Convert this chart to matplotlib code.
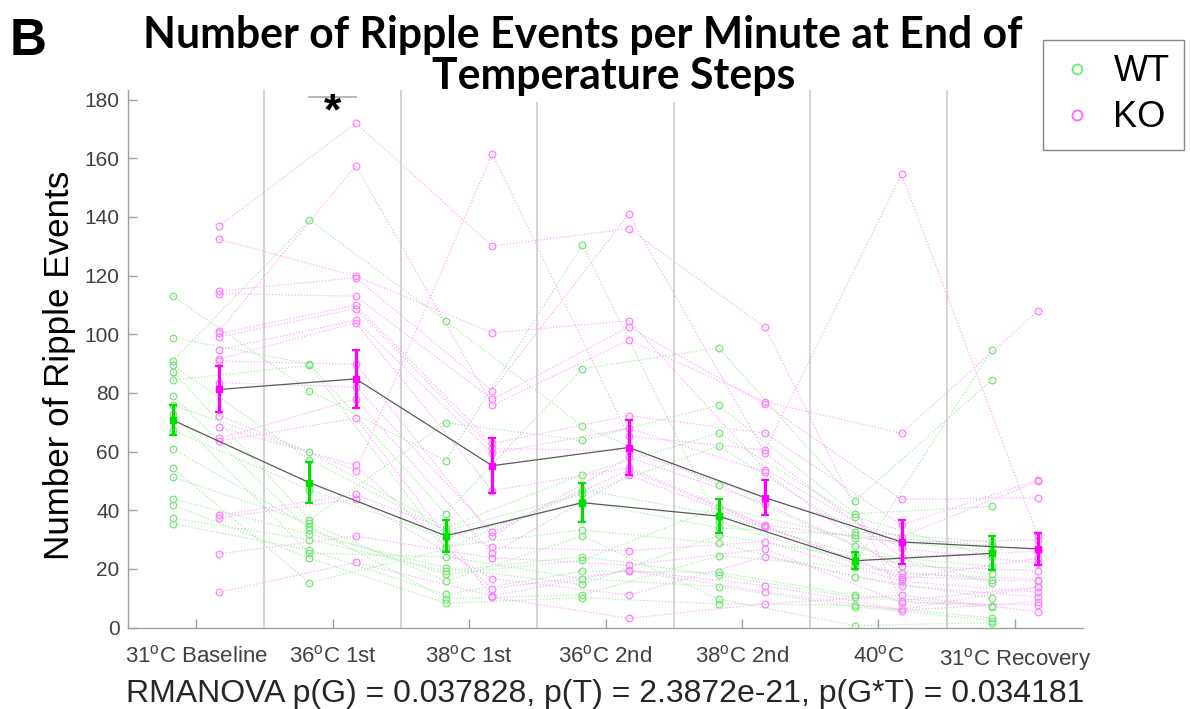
import matplotlib
matplotlib.use("Agg")
import matplotlib.pyplot as plt
from matplotlib.lines import Line2D
import numpy as np

plt.rcParams["font.family"] = ["Liberation Sans", "DejaVu Sans"]
plt.rcParams["mathtext.fontset"] = "custom"
plt.rcParams["mathtext.rm"] = "Liberation Sans"
plt.rcParams["mathtext.it"] = "Liberation Sans:italic"
plt.rcParams["mathtext.bf"] = "Liberation Sans:bold"

# ---------- data ----------
STEP_LABELS = [
    "31$^{\\mathrm{o}}$C Baseline",
    "36$^{\\mathrm{o}}$C 1st",
    "38$^{\\mathrm{o}}$C 1st",
    "36$^{\\mathrm{o}}$C 2nd",
    "38$^{\\mathrm{o}}$C 2nd",
    "40$^{\\mathrm{o}}$C",
    "31$^{\\mathrm{o}}$C Recovery",
]

# WT animals (17), one list per temperature step, same animal order in each
WT_C1 = [91.0, 113.0, 98.9, 89.4, 87.3, 84.4, 78.9, 75.8, 72.8, 67.3, 60.9, 54.4, 51.3, 43.9, 41.8, 37.3, 35.4]
WT_C2 = [139.0, 80.8, 89.9, 57.3, 36.7, 89.4, 33.2, 59.8, 25.3, 47.0, 34.4, 15.3, 35.7, 31.9, 23.7, 30.0, 26.4]
WT_C3 = [104.6, 56.9, 38.8, 33.0, 69.8, 27.6, 18.2, 34.0, 24.2, 30.5, 9.9, 26.7, 15.8, 20.4, 8.3, 19.3, 11.3]
WT_C4 = [68.8, 130.5, 88.3, 45.5, 63.9, 33.3, 23.0, 52.2, 16.7, 43.0, 11.1, 47.0, 31.3, 14.7, 10.2, 24.2, 19.3]
WT_C5 = [48.7, 36.0, 95.4, 61.9, 75.8, 28.7, 41.0, 66.3, 14.0, 34.0, 24.5, 38.5, 9.7, 31.5, 8.1, 17.8, 18.8]
WT_C6 = [27.8, 22.0, 43.2, 32.7, 38.8, 17.2, 30.6, 37.8, 7.1, 31.5, 20.5, 25.0, 0.7, 24.0, 7.7, 10.3, 11.0]
WT_C7 = [15.2, 94.5, 84.4, 29.2, 41.3, 10.2, 26.0, 24.0, 2.4, 28.0, 16.2, 21.0, 1.7, 18.3, 3.3, 6.9, 7.5]

# KO animals (19)
KO_C1 = [137.0, 132.4, 72.3, 114.8, 113.9, 101.2, 100.3, 99.1, 94.8, 91.6, 90.9, 83.5, 68.3, 64.5, 63.6, 38.4, 37.4, 25.2, 12.1]
KO_C2 = [172.0, 119.8, 53.5, 119.3, 113.0, 157.5, 109.9, 108.8, 104.8, 104.0, 89.8, 82.0, 55.3, 78.0, 71.4, 45.4, 43.8, 31.2, 22.2]
KO_C3 = [130.1, 100.5, 161.6, 80.8, 77.8, 75.8, 62.8, 61.1, 59.4, 46.7, 31.3, 32.6, 13.3, 25.3, 10.3, 27.4, 16.7, 23.8, 10.8]
KO_C4 = [136.0, 104.6, 65.3, 141.0, 102.5, 98.0, 72.3, 60.3, 68.0, 54.5, 58.0, 53.7, 19.3, 52.0, 3.2, 26.2, 11.1, 21.3, 19.6]
KO_C5 = [102.4, 53.9, 60.5, 59.4, 76.2, 77.0, 66.3, 44.0, 53.0, 35.0, 42.3, 34.7, 12.2, 34.2, 8.1, 29.3, 24.2, 26.8, 14.3]
KO_C6 = [9.2, 27.0, 154.5, 24.0, 43.7, 66.3, 35.0, 31.0, 18.5, 29.0, 21.0, 16.7, 5.8, 17.3, 11.0, 15.8, 14.3, 8.5, 6.2]
KO_C7 = [13.9, 22.0, 31.2, 26.0, 44.3, 108.0, 50.3, 49.9, 16.4, 30.0, 19.4, 23.6, 8.8, 15.8, 5.4, 12.1, 10.5, 7.7, 13.9]

WT_MEAN = [70.7, 49.4, 31.3, 42.6, 38.0, 22.8, 25.3]
WT_SEM = [5.1, 7.0, 5.45, 6.65, 5.9, 2.85, 5.8]
KO_MEAN = [81.2, 84.8, 55.2, 61.4, 44.3, 29.2, 26.8]
KO_SEM = [7.85, 9.9, 9.4, 9.25, 5.9, 7.5, 5.35]

SIG_STEP = 2
SIG_Y = 180.9

TITLE_1 = "Number of Ripple Events per Minute at End of"
TITLE_2 = "Temperature Steps"
YLABEL = "Number of Ripple Events"
XLABEL = "RMANOVA p(G) = 0.037828, p(T) = 2.3872e-21, p(G*T) = 0.034181"

# ---------- style ----------
W_PX, H_PX, DPI = 1190, 709, 100
OFFSET = 0.17
WT_DOT = "#74e874"
KO_DOT = "#ff80ff"
WT_TRACE = "#a8eea8"
KO_TRACE = "#ffaaff"
WT_MAIN = "#00e000"
KO_MAIN = "#ff00ff"
MEAN_LINE = "#5a5a5a"
AXIS_GRAY = "#a0a0a0"
SEP_GRAY = "#cccccc"


def fx(px):
    return px / W_PX


def fy(py):
    return 1.0 - py / H_PX


def fit_to(fig, txt, target_px, along="w"):
    r = fig.canvas.get_renderer()
    bb = txt.get_window_extent(renderer=r)
    cur = bb.width if along == "w" else bb.height
    txt.set_fontsize(txt.get_fontsize() * target_px / cur)


wt = np.array([WT_C1, WT_C2, WT_C3, WT_C4, WT_C5, WT_C6, WT_C7])
ko = np.array([KO_C1, KO_C2, KO_C3, KO_C4, KO_C5, KO_C6, KO_C7])
steps = np.arange(1, len(STEP_LABELS) + 1)
x_wt = steps - OFFSET
x_ko = steps + OFFSET

fig = plt.figure(figsize=(W_PX / DPI, H_PX / DPI), dpi=DPI)
ax = fig.add_axes([fx(128), fy(627.6), fx(1083) - fx(128), fy(90) - fy(627.6)])

for xs in steps[:-1] + 0.5:
    ax.axvline(xs, color=SEP_GRAY, lw=1.2, zorder=0)

# individual animals
for j in range(wt.shape[1]):
    ax.plot(x_wt, wt[:, j], ls=(0, (1, 1.5)), color=WT_TRACE, lw=0.9, zorder=1)
for j in range(ko.shape[1]):
    ax.plot(x_ko, ko[:, j], ls=(0, (1, 1.5)), color=KO_TRACE, lw=0.9, zorder=1)
for i in range(len(steps)):
    ax.plot(np.full(wt.shape[1], x_wt[i]), wt[i], ls="none", marker="o", mfc="none",
            mec=WT_DOT, ms=4.8, mew=0.9, zorder=2)
    ax.plot(np.full(ko.shape[1], x_ko[i]), ko[i], ls="none", marker="o", mfc="none",
            mec=KO_DOT, ms=4.8, mew=0.9, zorder=2)

# group means
ax.plot(x_wt, WT_MEAN, color=MEAN_LINE, lw=0.9, zorder=4)
ax.plot(x_ko, KO_MEAN, color=MEAN_LINE, lw=0.9, zorder=4)
ax.errorbar(x_wt, WT_MEAN, yerr=WT_SEM, fmt="s", ms=4.5, color=WT_MAIN, ecolor=WT_MAIN,
            elinewidth=2.3, capsize=3, capthick=1.6, zorder=5)
ax.errorbar(x_ko, KO_MEAN, yerr=KO_SEM, fmt="s", ms=4.5, color=KO_MAIN, ecolor=KO_MAIN,
            elinewidth=2.3, capsize=3, capthick=1.6, zorder=5)

# significance marker
ax.plot([SIG_STEP - OFFSET, SIG_STEP + OFFSET], [SIG_Y, SIG_Y], color="#aaaaaa", lw=1.2, zorder=3)
ax.text(SIG_STEP, SIG_Y - 9.5, "*", ha="center", va="baseline", fontsize=32,
        fontweight="bold", color="black", zorder=6, clip_on=False)

ax.set_xlim(0.5, 7.5)
ax.set_ylim(0, 183.3)
ax.set_yticks(np.arange(0, 181, 20))
ax.set_xticks(steps)
ax.set_xticklabels(STEP_LABELS)
for s in ("top", "right"):
    ax.spines[s].set_visible(False)
for s in ("left", "bottom"):
    ax.spines[s].set_color(AXIS_GRAY)
    ax.spines[s].set_linewidth(1.0)
ax.tick_params(axis="both", direction="in", length=6.5, width=1.0, color=AXIS_GRAY,
               labelcolor="#404040", labelsize=15)
ax.tick_params(axis="x", pad=13, labelsize=16)
ax.tick_params(axis="y", pad=6)

# texts
t2 = fig.text(fx(614), fy(89), TITLE_2, ha="center", va="baseline", fontsize=28,
              fontweight="bold", family=["Lato", "DejaVu Sans"],
              bbox=dict(facecolor="white", edgecolor="none", pad=4))
t1 = fig.text(fx(583), fy(48), TITLE_1, ha="center", va="baseline", fontsize=28,
              fontweight="bold", family=["Lato", "DejaVu Sans"])
fit_to(fig, t1, 880)
t2.set_fontsize(t1.get_fontsize())

fig.text(fx(10), fy(55), "B", ha="left", va="baseline", fontsize=37, fontweight="bold")

yl = fig.text(fx(60), fy(365), YLABEL, rotation=90, ha="center", va="center", fontsize=25,
              color="black")
fit_to(fig, yl, 390, along="h")

xl = fig.text(fx(605), fy(702), XLABEL, ha="center", va="baseline", fontsize=22,
              color="#262626")
fit_to(fig, xl, 960)

handles = [
    Line2D([], [], ls="none", marker="o", mfc="none", mec="#66ee66", ms=7.2, mew=1.3, label="WT"),
    Line2D([], [], ls="none", marker="o", mfc="none", mec="#ff66ff", ms=7.2, mew=1.3, label="KO"),
]
fig.legend(handles=handles, loc="upper right", bbox_to_anchor=(fx(1184), fy(40)),
           fontsize=26, frameon=True, fancybox=False, edgecolor="#888888",
           framealpha=1, borderpad=0.4, labelspacing=0.3, handlelength=1.1,
           handletextpad=0.45, borderaxespad=0)

fig.savefig("out.png", dpi=DPI)
